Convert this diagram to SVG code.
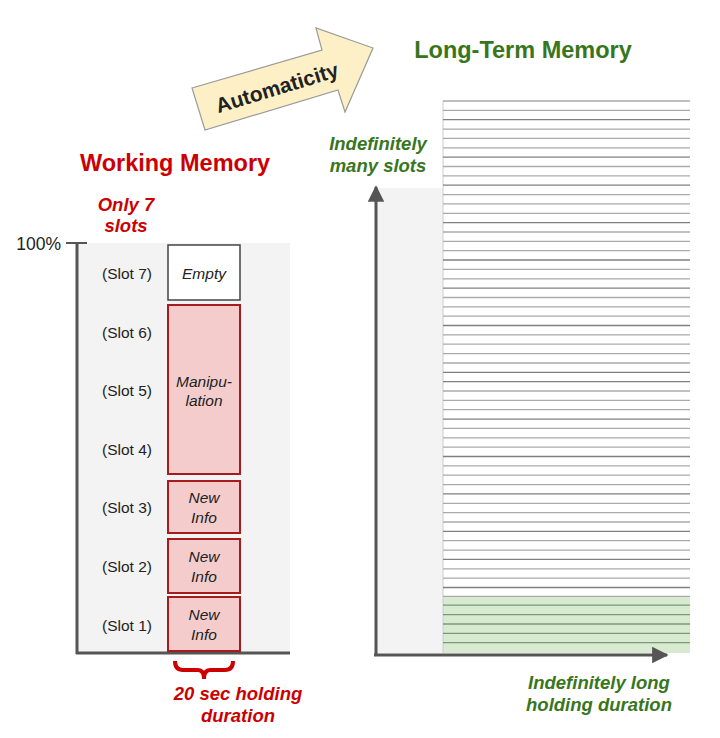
<svg xmlns="http://www.w3.org/2000/svg" width="720" height="738" viewBox="0 0 720 738">
<style>
text{font-family:"Liberation Sans",Arial,sans-serif}
.slot{font-size:15.5px;fill:#222;text-anchor:middle}
.box{font-size:15.5px;font-style:italic;fill:#222;text-anchor:middle}
.red{fill:#cc0000;font-weight:bold}
.green{fill:#38761d;font-weight:bold}
.lab{font-size:18.5px;font-style:italic;text-anchor:middle}
.ttl{font-size:23.5px;text-anchor:middle}
.pink{fill:#f4cccc;stroke:#a61c1c;stroke-width:2}
.ln{stroke:#aaa;stroke-width:1.3}
.ld{stroke:#808080;stroke-width:1.3}
.gl{stroke:#7a9a78;stroke-width:1.3}
</style>
<defs>
<marker id="ah" viewBox="0 0 10 10" refX="9" refY="5" markerWidth="6" markerHeight="5.5" orient="auto" markerUnits="strokeWidth"><path d="M0,0 L10,5 L0,10 z" fill="#555"/></marker>
</defs>
<rect width="720" height="738" fill="#fff"/>

<!-- Automaticity arrow -->
<g id="arrow">
<polygon points="192,88 322,50 316,28 373,48 345,112 338,90 205,130" fill="#fdf0c6" stroke="#9a9a9a" stroke-width="1.2"/>
<text x="277" y="95" transform="rotate(-17 277 88)" font-size="21" font-weight="bold" fill="#222" text-anchor="middle">Automaticity</text>
</g>

<!-- Working memory -->
<g id="wm-title"><text x="175" y="171" class="ttl red">Working Memory</text></g>
<g id="wm-slots-label"><text x="126" y="211" class="lab red">Only 7</text><text x="126" y="232" class="lab red">slots</text></g>
<g id="wm-chart">
<rect x="77" y="243" width="213" height="410" fill="#f3f3f3"/>
<text x="61" y="250" font-size="17.5" fill="#222" text-anchor="end">100%</text>
<line x1="66" y1="243" x2="87" y2="243" stroke="#555" stroke-width="2"/>
<line x1="77" y1="243" x2="77" y2="654" stroke="#555" stroke-width="3"/>
<line x1="76" y1="653" x2="290" y2="653" stroke="#555" stroke-width="3"/>
</g>
<g id="slot-labels">
<text x="127" y="279" class="slot">(Slot 7)</text>
<text x="127" y="338" class="slot">(Slot 6)</text>
<text x="127" y="396" class="slot">(Slot 5)</text>
<text x="127" y="455" class="slot">(Slot 4)</text>
<text x="127" y="513" class="slot">(Slot 3)</text>
<text x="127" y="572" class="slot">(Slot 2)</text>
<text x="127" y="631" class="slot">(Slot 1)</text>
</g>
<g id="box-empty"><rect x="168" y="245" width="72" height="55" fill="#fff" stroke="#444" stroke-width="1.5"/><text x="204" y="279" class="box">Empty</text></g>
<g id="box-manip"><rect x="168" y="305" width="72" height="169" class="pink"/><text x="204" y="387" class="box">Manipu-</text><text x="204" y="406" class="box">lation</text></g>
<g id="box-new3"><rect x="168" y="481" width="72" height="52" class="pink"/><text x="204" y="503" class="box">New</text><text x="204" y="523" class="box">Info</text></g>
<g id="box-new2"><rect x="168" y="539" width="72" height="54" class="pink"/><text x="204" y="562" class="box">New</text><text x="204" y="582" class="box">Info</text></g>
<g id="box-new1"><rect x="168" y="597" width="72" height="54" class="pink"/><text x="204" y="620" class="box">New</text><text x="204" y="640" class="box">Info</text></g>
<g id="brace"><path d="M175,661 Q175,670 183,670 L198,670 Q204,670 204,679 Q204,670 210,670 L225,670 Q233,670 233,661" fill="none" stroke="#cc0000" stroke-width="4"/></g>
<g id="wm-duration"><text x="238" y="700" class="lab red">20 sec holding</text><text x="238" y="722" class="lab red">duration</text></g>

<!-- Long-term memory -->
<g id="ltm-title"><text x="523" y="58" class="ttl green">Long-Term Memory</text></g>
<g id="ltm-slots-label"><text x="378" y="150" class="lab green">Indefinitely</text><text x="378" y="172" class="lab green">many slots</text></g>
<g id="ltm-chart">
<rect x="376" y="188" width="67" height="465" fill="#f3f3f3"/>
<rect x="443" y="596" width="247" height="57" fill="#d9ead3"/>
<line x1="443" y1="101" x2="443" y2="653" stroke="#ccc" stroke-width="1"/>
<g id="ltm-lines">
<line x1="443" x2="690" y1="101" y2="101" class="ln"/>
<line x1="443" x2="690" y1="110.4" y2="110.4" class="ln"/>
<line x1="443" x2="690" y1="119.7" y2="119.7" class="ld"/>
<line x1="443" x2="690" y1="129.1" y2="129.1" class="ln"/>
<line x1="443" x2="690" y1="138.4" y2="138.4" class="ln"/>
<line x1="443" x2="690" y1="147.8" y2="147.8" class="ln"/>
<line x1="443" x2="690" y1="157.1" y2="157.1" class="ld"/>
<line x1="443" x2="690" y1="166.5" y2="166.5" class="ln"/>
<line x1="443" x2="690" y1="175.8" y2="175.8" class="ln"/>
<line x1="443" x2="690" y1="185.2" y2="185.2" class="ld"/>
<line x1="443" x2="690" y1="194.6" y2="194.6" class="ln"/>
<line x1="443" x2="690" y1="203.9" y2="203.9" class="ln"/>
<line x1="443" x2="690" y1="213.3" y2="213.3" class="ln"/>
<line x1="443" x2="690" y1="222.6" y2="222.6" class="ld"/>
<line x1="443" x2="690" y1="232" y2="232" class="ln"/>
<line x1="443" x2="690" y1="241.3" y2="241.3" class="ln"/>
<line x1="443" x2="690" y1="250.7" y2="250.7" class="ln"/>
<line x1="443" x2="690" y1="260" y2="260" class="ld"/>
<line x1="443" x2="690" y1="269.4" y2="269.4" class="ln"/>
<line x1="443" x2="690" y1="278.8" y2="278.8" class="ln"/>
<line x1="443" x2="690" y1="288.1" y2="288.1" class="ld"/>
<line x1="443" x2="690" y1="297.5" y2="297.5" class="ln"/>
<line x1="443" x2="690" y1="306.8" y2="306.8" class="ln"/>
<line x1="443" x2="690" y1="316.2" y2="316.2" class="ln"/>
<line x1="443" x2="690" y1="325.5" y2="325.5" class="ld"/>
<line x1="443" x2="690" y1="334.9" y2="334.9" class="ln"/>
<line x1="443" x2="690" y1="344.2" y2="344.2" class="ln"/>
<line x1="443" x2="690" y1="353.6" y2="353.6" class="ln"/>
<line x1="443" x2="690" y1="363" y2="363" class="ln"/>
<line x1="443" x2="690" y1="372.3" y2="372.3" class="ld"/>
<line x1="443" x2="690" y1="381.7" y2="381.7" class="ld"/>
<line x1="443" x2="690" y1="391" y2="391" class="ln"/>
<line x1="443" x2="690" y1="400.4" y2="400.4" class="ln"/>
<line x1="443" x2="690" y1="409.7" y2="409.7" class="ln"/>
<line x1="443" x2="690" y1="419.1" y2="419.1" class="ld"/>
<line x1="443" x2="690" y1="428.4" y2="428.4" class="ln"/>
<line x1="443" x2="690" y1="437.8" y2="437.8" class="ln"/>
<line x1="443" x2="690" y1="447.2" y2="447.2" class="ln"/>
<line x1="443" x2="690" y1="456.5" y2="456.5" class="ld"/>
<line x1="443" x2="690" y1="465.9" y2="465.9" class="ln"/>
<line x1="443" x2="690" y1="475.2" y2="475.2" class="ln"/>
<line x1="443" x2="690" y1="484.6" y2="484.6" class="ln"/>
<line x1="443" x2="690" y1="493.9" y2="493.9" class="ld"/>
<line x1="443" x2="690" y1="503.3" y2="503.3" class="ln"/>
<line x1="443" x2="690" y1="512.6" y2="512.6" class="ln"/>
<line x1="443" x2="690" y1="522" y2="522" class="ln"/>
<line x1="443" x2="690" y1="531.4" y2="531.4" class="ld"/>
<line x1="443" x2="690" y1="540.7" y2="540.7" class="ln"/>
<line x1="443" x2="690" y1="550.1" y2="550.1" class="ln"/>
<line x1="443" x2="690" y1="559.4" y2="559.4" class="ld"/>
<line x1="443" x2="690" y1="568.8" y2="568.8" class="ln"/>
<line x1="443" x2="690" y1="578.1" y2="578.1" class="ln"/>
<line x1="443" x2="690" y1="587.5" y2="587.5" class="ld"/>
<line x1="443" x2="690" y1="596.4" y2="596.4" class="ln"/>
<line x1="443" x2="690" y1="605.2" y2="605.2" class="gl"/>
<line x1="443" x2="690" y1="614.6" y2="614.6" class="gl"/>
<line x1="443" x2="690" y1="624" y2="624" class="gl"/>
<line x1="443" x2="690" y1="633.3" y2="633.3" class="gl"/>
<line x1="443" x2="690" y1="642.7" y2="642.7" class="gl"/>
</g>
</g>
<g id="ltm-axes">
<line x1="376" y1="655" x2="376" y2="187" stroke="#555" stroke-width="3" marker-end="url(#ah)"/>
<line x1="374" y1="655" x2="667" y2="655" stroke="#555" stroke-width="3" marker-end="url(#ah)"/>
</g>
<g id="ltm-duration"><text x="599" y="689" class="lab green">Indefinitely long</text><text x="599" y="711" class="lab green">holding duration</text></g>
</svg>
